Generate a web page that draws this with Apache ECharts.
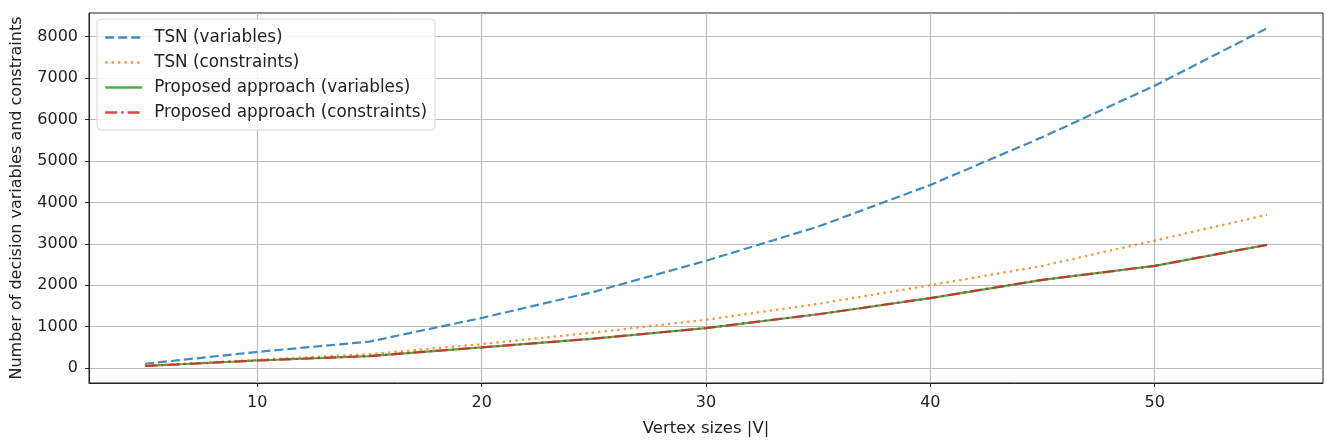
<!DOCTYPE html>
<html>
<head>
<meta charset="utf-8">
<script src="https://cdn.jsdelivr.net/npm/echarts@6/dist/echarts.min.js"></script>
<style>
html,body{margin:0;padding:0;background:#fff;}
#chart{width:1325px;height:443px;}
</style>
</head>
<body>
<div id="chart"></div>
<script>
const vertexSizes = [5, 10, 15, 20, 25, 30, 35, 40, 45, 50, 55];
const tsnVariables = [105, 390, 640, 1210, 1840, 2590, 3415, 4420, 5575, 6815, 8200];
const tsnConstraints = [60, 200, 337, 578, 860, 1165, 1550, 2000, 2468, 3078, 3700];
const proposedVariables = [50, 183, 290, 500, 710, 965, 1300, 1690, 2130, 2468, 2975];
const proposedConstraints = [50, 183, 290, 500, 710, 965, 1300, 1690, 2130, 2468, 2975];
const xTicks = [10, 20, 30, 40, 50];
const yTicks = [0, 1000, 2000, 3000, 4000, 5000, 6000, 7000, 8000];
const seriesNames = ['TSN (variables)', 'TSN (constraints)', 'Proposed approach (variables)', 'Proposed approach (constraints)'];

const pairs = ys => vertexSizes.map((x, i) => [x, ys[i]]);
const FONT = 'DejaVu Sans';

const chart = echarts.init(document.getElementById('chart'), null, {renderer: 'canvas'});
const mkSeries = (name, ys, color, type, width, z) => ({
  name, type: 'line', data: pairs(ys), symbol: 'none', showSymbol: false,
  lineStyle: {color, width, type, opacity: 0.85}, itemStyle: {color}, z, animation: false
});
chart.setOption({
  animation: false,
  textStyle: {fontFamily: FONT},
  grid: {left: 89, top: 13, width: 1234, height: 370, show: true, borderColor: '#222', borderWidth: 1,
         backgroundColor: 'transparent', containLabel: false, outerBoundsMode: 'none'},
  xAxis: {
    type: 'value', min: 2.5, max: 57.5,
    name: 'Vertex sizes |V|', nameLocation: 'middle', nameGap: 37,
    nameTextStyle: {fontSize: 16.5, color: '#222', fontFamily: FONT},
    axisLine: {show: true, onZero: false, lineStyle: {color: '#222'}},
    axisTick: {show: true, inside: false, length: 4, customValues: xTicks, lineStyle: {color: '#222'}},
    axisLabel: {customValues: xTicks, fontSize: 16, color: '#222', margin: 12, fontFamily: FONT,
                formatter: v => String(v)},
    splitLine: {show: true, lineStyle: {color: '#bdbdbd', width: 1.2}}
  },
  yAxis: {
    type: 'value', min: -360, max: 8570,
    name: 'Number of decision variables and constraints', nameLocation: 'middle', nameGap: 64,
    nameTextStyle: {fontSize: 16, color: '#222', fontFamily: FONT},
    axisLine: {show: true, onZero: false, lineStyle: {color: '#222'}},
    axisTick: {show: true, inside: false, length: 4, customValues: yTicks, lineStyle: {color: '#222'}},
    axisLabel: {customValues: yTicks, fontSize: 16, color: '#222', margin: 11, fontFamily: FONT,
                formatter: v => String(v)},
    splitLine: {show: true, lineStyle: {color: '#bdbdbd', width: 1.2}}
  },
  legend: {
    orient: 'vertical', left: 97, top: 19,
    data: seriesNames,
    itemWidth: 37, itemHeight: 14, itemGap: 8,
    padding: [10, 8, 9, 7],
    backgroundColor: 'rgba(255,255,255,0.85)', borderColor: '#d6d6d6', borderWidth: 1, borderRadius: 4,
    itemStyle: {opacity: 0},
    lineStyle: {width: 2.4},
    textStyle: {fontSize: 16.8, color: '#222', fontFamily: FONT, padding: [0, 0, 0, 7]}
  },
  series: [
    mkSeries(seriesNames[0], tsnVariables, '#1f77b4', [9, 4], 2.2, 3),
    mkSeries(seriesNames[1], tsnConstraints, '#ff7f0e', [2.4, 4], 2.2, 3),
    mkSeries(seriesNames[2], proposedVariables, '#2ca02c', 'solid', 2.2, 3),
    mkSeries(seriesNames[3], proposedConstraints, '#d62728', [12, 4, 2.4, 4], 2.2, 4)
  ]
});
</script>
</body>
</html>
